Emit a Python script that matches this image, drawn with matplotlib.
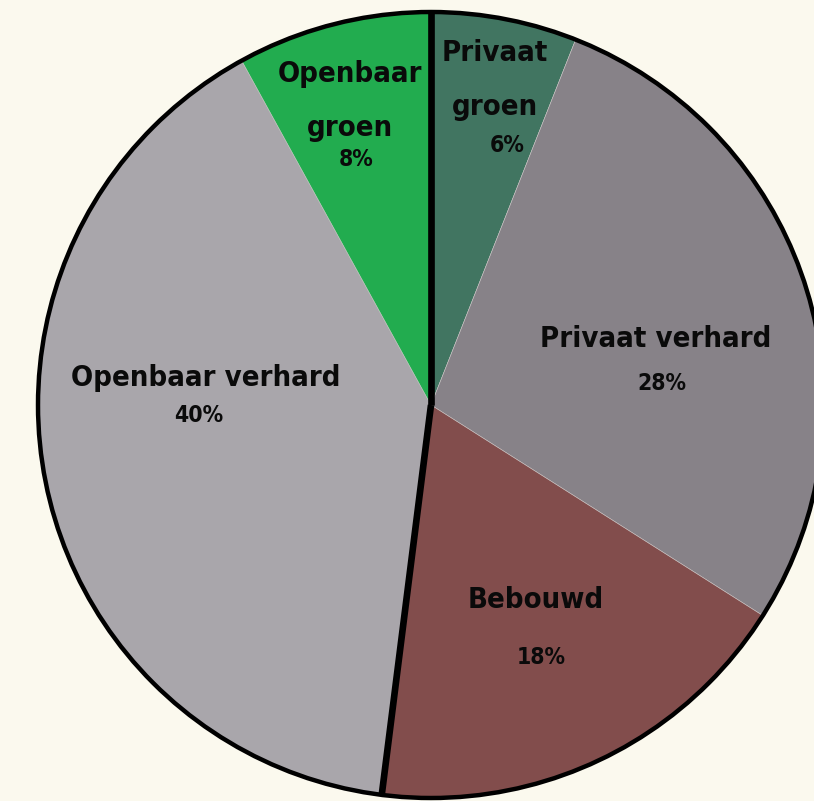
import numpy as np
import matplotlib.pyplot as plt
from matplotlib.patches import Circle

# slices, clockwise from 12 o'clock
names = ["Privaat\ngroen", "Privaat verhard", "Bebouwd", "Openbaar verhard", "Openbaar\ngroen"]
shares = [6, 28, 18, 40, 8]
colors = ["#417561", "#878288", "#824d4c", "#a9a6ab", "#22ac4f"]

# label placement in pixel space (name xy, percent xy)
name_pos = [(495, 80), (656, 339), (536, 600), (206, 378), (350, 101)]
pct_pos = [(507, 145), (662, 383), (541, 657), (199, 416), (356, 160)]

W, H = 814, 801
cx, cy, r = 431, H - 405, 393
bg = "#fbf9ee"

fig = plt.figure(figsize=(W / 100, H / 100), dpi=100, facecolor=bg)
ax = fig.add_axes([0, 0, 1, 1])
ax.set_facecolor(bg)

ax.pie(shares, colors=colors, startangle=90, counterclock=False,
       center=(cx, cy), radius=r,
       wedgeprops=dict(edgecolor="#c8c4c4", linewidth=0.4))

# black outline
ax.add_patch(Circle((cx, cy), r, fill=False, edgecolor="black", linewidth=3.2, zorder=5))

# two thick radial separators: top and between Bebouwd / Openbaar verhard
cum = np.cumsum([0] + shares)
for idx in [0, 3]:
    ang = np.deg2rad(90 - cum[idx] / 100 * 360)
    ax.plot([cx, cx + r * np.cos(ang)], [cy, cy + r * np.sin(ang)],
            color="black", linewidth=4.8, solid_capstyle="butt", zorder=4)

font = ["DejaVu Sans"]
for n, s, (nx, ny), (px, py) in zip(names, shares, name_pos, pct_pos):
    ax.text(nx, H - ny, n, ha="center", va="center", fontsize=21, fontstretch="condensed",
            fontweight="bold", family=font, color="#0a0a0a", linespacing=2.2, zorder=6)
    ax.text(px, H - py, f"{s}%", ha="center", va="center", fontsize=16.5, fontstretch="condensed",
            fontweight="bold", family=font, color="#0a0a0a", zorder=6)

ax.set_xlim(0, W)
ax.set_ylim(0, H)
ax.set_aspect("equal")
ax.axis("off")

fig.savefig("out.png", dpi=100, facecolor=bg)
